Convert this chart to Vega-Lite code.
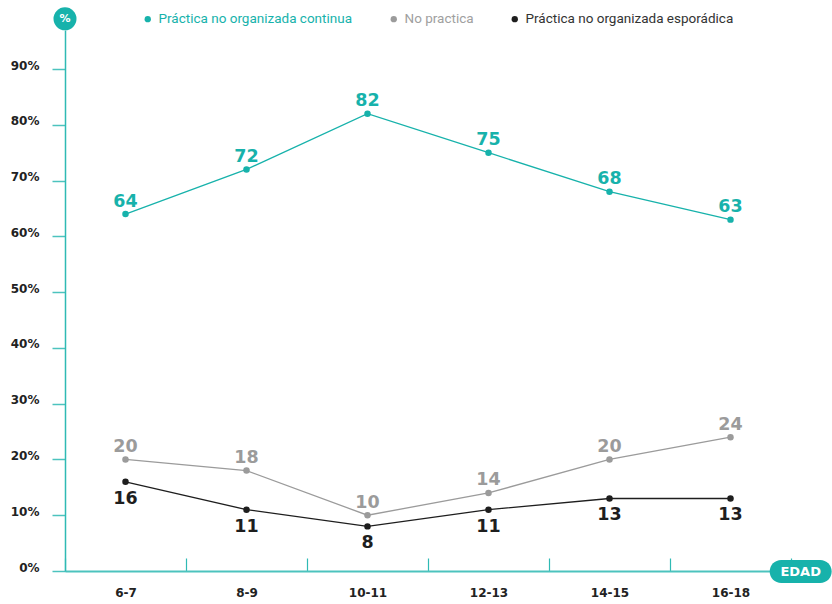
{
  "$schema": "https://vega.github.io/schema/vega-lite/v6.json",
  "autosize": "none",
  "width": 726,
  "height": 541,
  "padding": {"left": 65, "top": 30, "right": 41, "bottom": 33},
  "background": "white",
  "config": {
    "view": {"stroke": null},
    "font": "DejaVu Sans",
    "axis": {"grid": false}
  },
  "data": {
    "values": [
      {"edad": "6-7", "serie": "Práctica no organizada continua", "valor": 64},
      {"edad": "8-9", "serie": "Práctica no organizada continua", "valor": 72},
      {"edad": "10-11", "serie": "Práctica no organizada continua", "valor": 82},
      {"edad": "12-13", "serie": "Práctica no organizada continua", "valor": 75},
      {"edad": "14-15", "serie": "Práctica no organizada continua", "valor": 68},
      {"edad": "16-18", "serie": "Práctica no organizada continua", "valor": 63},
      {"edad": "6-7", "serie": "No practica", "valor": 20},
      {"edad": "8-9", "serie": "No practica", "valor": 18},
      {"edad": "10-11", "serie": "No practica", "valor": 10},
      {"edad": "12-13", "serie": "No practica", "valor": 14},
      {"edad": "14-15", "serie": "No practica", "valor": 20},
      {"edad": "16-18", "serie": "No practica", "valor": 24},
      {"edad": "6-7", "serie": "Práctica no organizada esporádica", "valor": 16},
      {"edad": "8-9", "serie": "Práctica no organizada esporádica", "valor": 11},
      {"edad": "10-11", "serie": "Práctica no organizada esporádica", "valor": 8},
      {"edad": "12-13", "serie": "Práctica no organizada esporádica", "valor": 11},
      {"edad": "14-15", "serie": "Práctica no organizada esporádica", "valor": 13},
      {"edad": "16-18", "serie": "Práctica no organizada esporádica", "valor": 13}
    ]
  },
  "layer": [
    {
      "encoding": {
        "x": {
          "field": "edad",
          "type": "nominal",
          "sort": null,
          "scale": {"type": "band", "paddingInner": 0, "paddingOuter": 0, "domain": ["6-7", "8-9", "10-11", "12-13", "14-15", "16-18"]},
          "axis": {
            "title": null,
            "labelAngle": 0,
            "tickBand": "extent",
            "tickSize": -13,
            "tickColor": "#2fbab4",
            "tickWidth": 1.2,
            "domainColor": "#4cc3be",
            "domainWidth": 2,
            "labelFont": "DejaVu Sans",
            "labelFontWeight": "bold",
            "labelFontSize": 12,
            "labelColor": "#222222",
            "labelPadding": 29
          }
        },
        "y": {
          "field": "valor",
          "type": "quantitative",
          "scale": {"domain": [0, 97], "nice": false},
          "axis": {
            "title": null,
            "values": [0, 10, 20, 30, 40, 50, 60, 70, 80, 90],
            "labelExpr": "datum.value + '%'",
            "tickSize": 13,
            "tickColor": "#4cc3be",
            "tickWidth": 1.5,
            "domainColor": "#2fbab4",
            "domainWidth": 1.5,
            "labelFont": "DejaVu Sans",
            "labelFontWeight": "bold",
            "labelFontSize": 12,
            "labelColor": "#222222",
            "labelPadding": 13,
            "labelOffset": -4
          }
        },
        "color": {
          "field": "serie",
          "type": "nominal",
          "scale": {
            "domain": ["Práctica no organizada continua", "No practica", "Práctica no organizada esporádica"],
            "range": ["#17b2ab", "#9b9b9b", "#1e1e1e"]
          },
          "legend": {
            "title": null,
            "orient": "none",
            "direction": "horizontal",
            "legendX": 76,
            "legendY": -18,
            "symbolType": "circle",
            "symbolSize": 40,
            "symbolStrokeWidth": 0,
            "labelFont": "Roboto",
            "labelFontSize": 13.5,
            "labelLimit": 400,
            "columnPadding": 34,
            "labelOffset": 4,
            "encode": {
              "symbols": {"update": {"fill": {"signal": "datum.value === 'No practica' ? '#9b9b9b' : datum.value === 'Práctica no organizada continua' ? '#17b2ab' : '#1e1e1e'"}, "strokeWidth": {"value": 0}}},
              "labels": {"update": {"fill": {"signal": "datum.value === 'No practica' ? '#a0a0a0' : datum.value === 'Práctica no organizada continua' ? '#17b2ab' : '#333333'"}}}
            }
          }
        }
      },
      "layer": [
        {"mark": {"type": "line", "strokeWidth": 1.3}},
        {"mark": {"type": "point", "filled": true, "size": 42, "opacity": 1}},
        {
          "transform": [{"filter": "datum.serie !== 'Práctica no organizada esporádica'"}],
          "mark": {"type": "text", "dy": -12.5, "font": "DejaVu Sans", "fontWeight": "bold", "fontSize": 17.5},
          "encoding": {"text": {"field": "valor", "type": "quantitative"}}
        },
        {
          "transform": [{"filter": "datum.serie === 'Práctica no organizada esporádica'"}],
          "mark": {"type": "text", "dy": 17, "font": "DejaVu Sans", "fontWeight": "bold", "fontSize": 17.5},
          "encoding": {"text": {"field": "valor", "type": "quantitative"}}
        }
      ]
    },
    {
      "data": {"values": [{"edad": "6-7", "valor": 99, "etiqueta": "%"}]},
      "encoding": {
        "x": {"field": "edad", "type": "nominal", "bandPosition": 0},
        "y": {"field": "valor", "type": "quantitative"}
      },
      "layer": [
        {"mark": {"type": "point", "shape": "circle", "filled": true, "size": 529, "color": "#17b2ab", "opacity": 1}},
        {
          "mark": {"type": "text", "color": "white", "font": "DejaVu Sans", "fontWeight": "bold", "fontSize": 11, "baseline": "middle", "align": "center"},
          "encoding": {"text": {"field": "etiqueta"}}
        }
      ]
    },
    {
      "data": {"values": [{"edad": "16-18", "valor": -0.1, "etiqueta": "EDAD"}]},
      "encoding": {
        "x": {"field": "edad", "type": "nominal", "bandPosition": 1.08},
        "y": {"field": "valor", "type": "quantitative"}
      },
      "layer": [
        {"mark": {"type": "point", "shape": "M -0.629,-0.371 L 0.629,-0.371 A 0.371 0.371 0 0 1 0.629 0.371 L -0.629 0.371 A 0.371 0.371 0 0 1 -0.629 -0.371 Z", "filled": true, "size": 3844, "color": "#17b2ab", "opacity": 1}},
        {
          "mark": {"type": "text", "color": "white", "font": "DejaVu Sans", "fontWeight": "bold", "fontSize": 13, "baseline": "middle", "align": "center"},
          "encoding": {"text": {"field": "etiqueta"}}
        }
      ]
    }
  ]
}
